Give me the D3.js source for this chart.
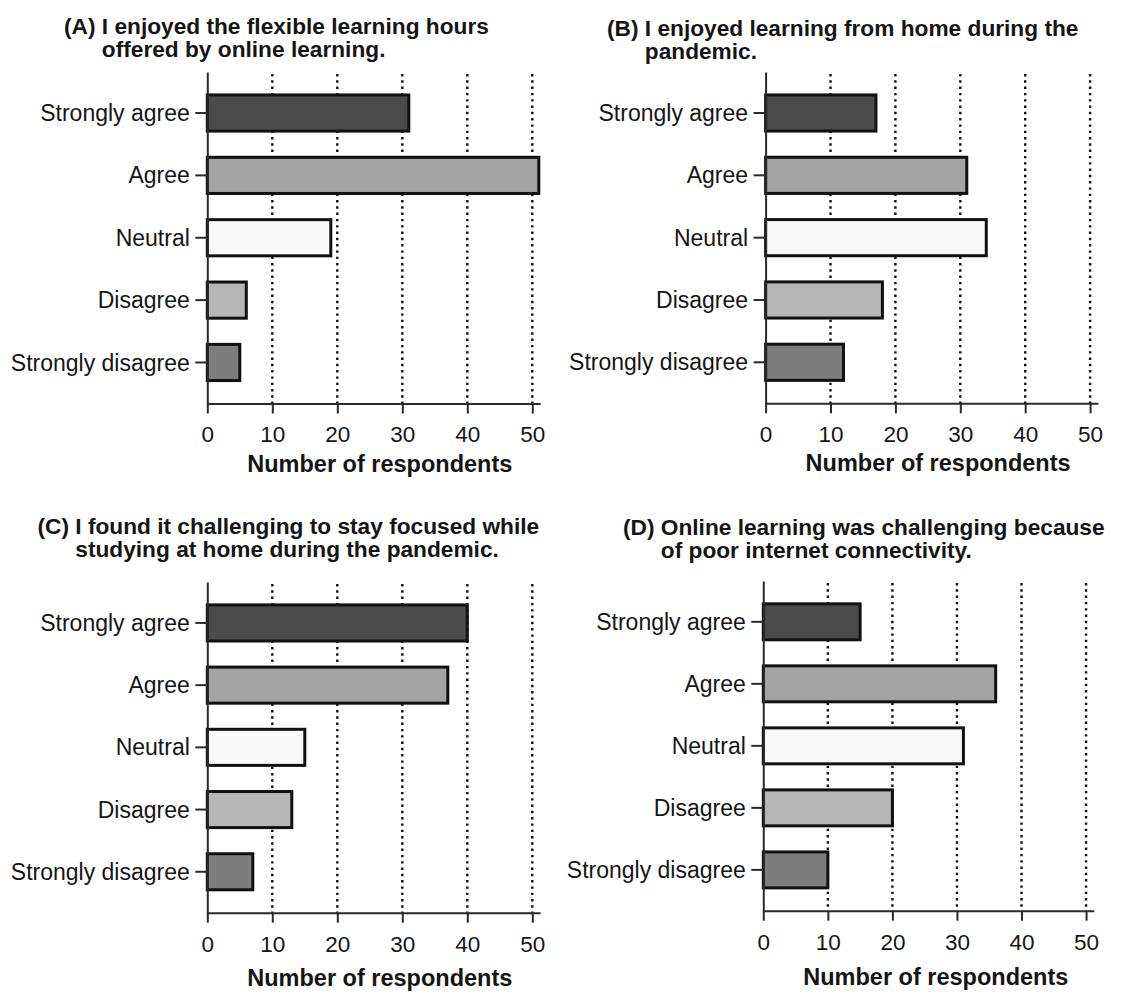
<!DOCTYPE html>
<html>
<head>
<meta charset="utf-8">
<script src="https://cdn.jsdelivr.net/npm/d3@7"></script>
<style>
  html, body { margin: 0; padding: 0; background: #ffffff; }
  svg { display: block; font-family: "Liberation Sans", Arial, Helvetica, sans-serif; }
</style>
</head>
<body>
<svg id="chart" width="1127" height="994"></svg>
<script>
// Survey responses: number of respondents per answer, one array per statement
const categories = ["Strongly agree", "Agree", "Neutral", "Disagree", "Strongly disagree"];
const valuesA = [31, 51, 19, 6, 5];
const valuesB = [17, 31, 34, 18, 12];
const valuesC = [40, 37, 15, 13, 7];
const valuesD = [15, 36, 31, 20, 10];

const panelLabels = ["(A)", "(B)", "(C)", "(D)"];
const titleLinesA = ["I enjoyed the flexible learning hours", "offered by online learning."];
const titleLinesB = ["I enjoyed learning from home during the", "pandemic."];
const titleLinesC = ["I found it challenging to stay focused while", "studying at home during the pandemic."];
const titleLinesD = ["Online learning was challenging because", "of poor internet connectivity."];

const tickValues = [0, 10, 20, 30, 40, 50];
const gridValues = [10, 20, 30, 40, 50];
const axisTitle = "Number of respondents";
const xMax = 51.2;

// one grey per answer category
const barFills = ["#4b4b4b", "#a3a3a3", "#f9f9f9", "#b6b6b6", "#7d7d7d"];

// panel placement on the page
const layout = [
  { x0: 207.3, top: 72,  axisY: 403.5, unit: 6.50,  titleX: 64,    titleY: 34,   xTitleDy: 68 },
  { x0: 765.6, top: 72,  axisY: 403.3, unit: 6.49,  titleX: 607,   titleY: 36,   xTitleDy: 68 },
  { x0: 207.3, top: 582, axisY: 912.7, unit: 6.50,  titleX: 37.5,  titleY: 534,  xTitleDy: 73 },
  { x0: 763.3, top: 581, axisY: 910.7, unit: 6.455, titleX: 623,   titleY: 534.5, xTitleDy: 74 }
];

const panels = [
  { label: panelLabels[0], lines: titleLinesA, values: valuesA },
  { label: panelLabels[1], lines: titleLinesB, values: valuesB },
  { label: panelLabels[2], lines: titleLinesC, values: valuesC },
  { label: panelLabels[3], lines: titleLinesD, values: valuesD }
];

const svg = d3.select("#chart");
const tickFont = 22.5;
const catFont = 23;
const axisTitleFont = 23.5;
const titleFont = 22.7;
const ink = "#151515";

panels.forEach((p, i) => {
  const L = layout[i];
  const g = svg.append("g");

  const x = d3.scaleLinear()
    .domain([0, xMax])
    .range([L.x0, L.x0 + xMax * L.unit]);

  const y = d3.scaleBand()
    .domain(categories)
    .range([L.top, L.axisY])
    .paddingInner(0.42)
    .paddingOuter(0.368);

  // dotted vertical gridlines
  g.append("g")
    .selectAll("line")
    .data(gridValues)
    .join("line")
    .attr("x1", d => x(d))
    .attr("x2", d => x(d))
    .attr("y1", L.top + 2)
    .attr("y2", L.axisY)
    .attr("stroke", "#111")
    .attr("stroke-width", 2.4)
    .attr("stroke-linecap", "butt")
    .attr("stroke-dasharray", "2.4,3.9");

  // bars
  g.append("g")
    .selectAll("rect")
    .data(p.values.map((v, k) => ({ cat: categories[k], v, k })))
    .join("rect")
    .attr("x", x(0))
    .attr("y", d => y(d.cat))
    .attr("width", d => x(d.v) - x(0))
    .attr("height", y.bandwidth())
    .attr("fill", d => barFills[d.k])
    .attr("stroke", "#111")
    .attr("stroke-width", 3);

  // x axis
  const xAxis = g.append("g")
    .attr("transform", `translate(0,${L.axisY})`)
    .call(d3.axisBottom(x).tickValues(tickValues).tickSize(10).tickSizeOuter(0).tickPadding(13));
  xAxis.select(".domain").attr("stroke", "#2a2a2a").attr("stroke-width", 2);
  xAxis.selectAll(".tick line").attr("stroke", "#2a2a2a").attr("stroke-width", 2);
  xAxis.selectAll(".tick text")
    .attr("fill", ink)
    .style("font-size", tickFont + "px")
    .style("font-family", "\"Liberation Sans\", Arial, sans-serif");

  // y axis
  const yAxis = g.append("g")
    .attr("transform", `translate(${L.x0},0)`)
    .call(d3.axisLeft(y).tickSize(12).tickSizeOuter(0).tickPadding(5.5));
  yAxis.select(".domain").attr("stroke", "#2a2a2a").attr("stroke-width", 2);
  yAxis.selectAll(".tick line").attr("stroke", "#2a2a2a").attr("stroke-width", 2);
  yAxis.selectAll(".tick text")
    .attr("fill", ink)
    .attr("dy", "0.35em")
    .style("font-size", catFont + "px")
    .style("font-family", "\"Liberation Sans\", Arial, sans-serif");

  // x axis title
  g.append("text")
    .attr("x", L.x0 + 172.5)
    .attr("y", L.axisY + L.xTitleDy)
    .attr("text-anchor", "middle")
    .attr("fill", ink)
    .style("font-size", axisTitleFont + "px")
    .style("font-weight", "bold")
    .text(axisTitle);

  // two-line panel title with a hanging indent after the panel label
  const prefix = g.append("text")
    .style("font-size", titleFont + "px")
    .style("font-weight", "bold")
    .attr("visibility", "hidden")
    .text(p.label + "\u00a0");
  const indent = prefix.node().getComputedTextLength();
  prefix.remove();

  const title = g.append("text")
    .attr("fill", ink)
    .style("font-size", titleFont + "px")
    .style("font-weight", "bold");
  title.append("tspan")
    .attr("x", L.titleX)
    .attr("y", L.titleY)
    .text(p.label + "\u00a0" + p.lines[0]);
  title.append("tspan")
    .attr("x", L.titleX + indent)
    .attr("y", L.titleY + 23)
    .text(p.lines[1]);
});
</script>
</body>
</html>
